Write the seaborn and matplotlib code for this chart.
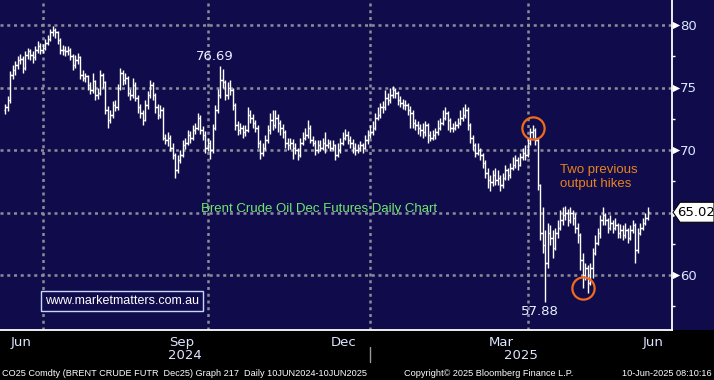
import numpy as np
import pandas as pd
import matplotlib
matplotlib.use("Agg")
import matplotlib.pyplot as plt
import seaborn as sns
from matplotlib.patches import Polygon, Rectangle

# trading days, ICE Brent closed on these
holidays = ["2024-12-25", "2025-01-01", "2025-04-18"]
days = pd.bdate_range("2024-06-10", "2025-06-09")
days = days[~days.isin(pd.to_datetime(holidays))]

# daily closes, one line per month
close = [
    73.4, 74.0, 76.0, 76.4, 76.8, 77.2, 77.3, 76.6, 77.6, 77.9, 77.6, 77.4, 78.0, 78.3, 78.0,
    78.2, 78.6, 78.9, 79.4, 79.6, 79.4, 78.8, 78.0, 78.0, 77.9, 78.0, 77.5, 76.8, 77.2, 77.4, 76.0, 75.8, 75.9, 75.2, 74.8, 75.5, 74.4, 74.6,
    76.0, 75.4, 73.2, 72.4, 72.8, 73.6, 73.4, 75.0, 76.2, 75.6, 75.8, 74.6, 74.4, 75.2, 74.2, 73.4, 73.0, 72.4, 73.6, 74.4, 75.2, 74.4,
    73.4, 72.8, 73.2, 71.0, 70.8, 71.0, 70.2, 69.6, 68.4, 69.2, 69.6, 70.4, 70.6, 71.2, 71.0, 71.6, 71.8, 72.6, 71.6, 71.2, 70.2,
    70.6, 70.0, 71.8, 73.2, 74.4, 75.6, 75.4, 74.4, 75.0, 74.8, 73.6, 72.0, 71.6, 71.8, 71.4, 71.6, 72.8, 72.6, 72.2, 71.8, 70.6, 69.8, 70.2,
    70.8, 71.6, 72.4, 72.0, 72.6, 72.2, 71.8, 71.4, 70.6, 70.4, 70.6, 70.2, 70.0, 69.6, 70.6, 71.0, 71.2, 71.8, 70.8, 70.6, 70.0,
    70.4, 70.2, 70.6, 70.4, 70.6, 70.2, 70.4, 69.6, 70.0, 70.6, 71.0, 71.2, 70.8, 70.6, 70.2, 70.0, 70.2, 70.4, 70.2, 70.8, 71.2,
    71.4, 71.8, 72.6, 72.8, 73.4, 73.4, 74.2, 74.0, 74.4, 74.8, 74.6, 74.0, 73.8, 73.6, 73.6, 73.2, 73.0, 72.2, 72.0, 71.8, 71.6, 71.4,
    72.0, 71.2, 71.0, 71.2, 71.4, 71.8, 72.2, 72.6, 73.0, 72.4, 71.8, 71.8, 72.0, 72.2, 72.6, 72.8, 73.2, 72.0, 71.0, 70.4,
    69.8, 70.0, 69.6, 69.0, 68.2, 67.6, 67.4, 68.0, 67.6, 67.8, 67.2, 67.8, 68.4, 68.0, 68.6, 68.8, 69.2, 68.8, 69.4, 69.8, 69.6,
    70.6, 71.4, 71.6, 70.8, 67.2, 63.4, 62.4, 61.0, 63.4, 63.0, 62.2, 63.4, 63.8, 64.4, 64.8, 65.0, 64.4, 65.0, 64.6, 63.8, 63.2,
    61.2, 60.0, 60.6, 59.4, 60.6, 61.8, 62.6, 63.4, 64.4, 64.8, 64.4, 63.8, 64.2, 63.8, 64.0, 63.4, 63.6, 63.2, 63.6, 63.0, 63.6, 64.0,
    62.0, 63.4, 63.8, 64.2, 64.6, 65.02,
]
high = [
    73.7, 74.3, 76.3, 76.8, 77.1, 77.5, 77.7, 77.5, 77.9, 78.2, 78.1, 77.9, 78.3, 78.7, 78.6,
    78.5, 78.9, 79.2, 79.7, 79.9, 79.8, 79.5, 79.0, 78.4, 78.3, 78.3, 78.2, 77.7, 77.6, 77.8, 77.5, 76.4, 76.2, 76.0, 75.4, 76.2, 75.6, 75.0,
    76.4, 76.2, 75.5, 73.5, 73.2, 73.9, 74.0, 75.3, 76.6, 76.4, 76.2, 75.9, 74.9, 75.8, 75.4, 74.4, 73.7, 73.2, 74.0, 74.7, 75.6, 75.4,
    74.6, 73.7, 73.6, 73.4, 71.3, 71.4, 71.2, 70.6, 69.8, 69.6, 70.0, 70.8, 71.0, 71.6, 71.5, 72.0, 72.2, 73.0, 72.8, 71.9, 71.5,
    71.0, 70.8, 72.1, 73.6, 74.9, 76.69, 76.5, 75.6, 75.4, 75.6, 75.0, 73.8, 72.3, 72.2, 72.0, 72.0, 73.4, 73.2, 72.9, 72.4, 72.0, 70.8, 70.6,
    71.2, 72.0, 73.0, 73.2, 73.2, 72.9, 72.4, 72.1, 71.6, 71.0, 71.0, 70.9, 70.6, 70.2, 71.0, 71.4, 71.8, 72.4, 72.0, 71.1, 70.8,
    70.8, 70.8, 71.0, 71.4, 70.9, 70.8, 70.8, 70.5, 70.6, 71.0, 71.4, 71.7, 71.5, 71.1, 70.9, 70.6, 70.5, 70.7, 70.6, 71.2, 71.6,
    72.0, 72.3, 73.0, 73.4, 73.8, 73.9, 74.8, 74.6, 75.0, 75.1, 75.0, 74.7, 74.3, 74.1, 74.0, 73.8, 73.5, 73.2, 72.5, 72.3, 72.1, 72.2,
    72.3, 72.2, 71.5, 71.6, 71.8, 72.4, 72.6, 73.2, 73.4, 73.1, 72.6, 72.2, 72.3, 72.6, 73.2, 73.4, 73.7, 73.4, 72.2, 71.2,
    70.6, 70.6, 70.2, 69.8, 69.2, 68.6, 68.0, 68.4, 68.6, 68.4, 68.0, 68.2, 68.8, 68.6, 69.0, 69.4, 69.6, 69.4, 69.8, 70.2, 70.4,
    71.0, 71.8, 72.0, 71.8, 71.0, 67.3, 65.4, 63.6, 64.2, 64.0, 63.6, 63.8, 64.4, 65.2, 65.4, 65.5, 65.3, 65.4, 65.2, 65.0, 64.2,
    63.4, 61.8, 61.0, 60.8, 61.0, 62.2, 63.2, 63.8, 64.8, 65.4, 65.0, 64.6, 64.8, 64.4, 64.6, 64.2, 64.1, 64.0, 64.2, 63.8, 64.0, 64.4,
    64.2, 63.8, 64.2, 64.6, 65.0, 65.4,
]
low = [
    72.9, 73.1, 73.8, 75.7, 76.0, 76.5, 76.9, 76.2, 76.4, 77.3, 77.2, 77.0, 77.2, 77.8, 77.7,
    77.8, 78.0, 78.4, 78.7, 79.1, 79.0, 78.5, 77.7, 77.6, 77.5, 77.6, 77.2, 76.4, 76.6, 76.9, 75.7, 75.5, 75.4, 74.8, 74.5, 74.6, 74.0, 74.1,
    74.4, 75.0, 72.9, 71.8, 72.2, 72.6, 73.1, 73.2, 74.8, 75.2, 75.3, 74.3, 74.0, 74.2, 73.9, 73.0, 72.6, 72.0, 72.3, 73.3, 74.2, 74.0,
    73.0, 72.5, 72.6, 70.8, 70.5, 70.3, 69.9, 69.3, 67.8, 68.2, 69.0, 69.4, 70.1, 70.4, 70.6, 70.8, 71.3, 71.6, 71.3, 70.8, 69.8,
    69.9, 69.3, 69.8, 71.6, 73.0, 74.2, 75.0, 74.0, 74.1, 74.4, 73.2, 71.6, 71.2, 71.3, 71.0, 71.1, 71.4, 72.2, 71.8, 71.4, 70.2, 69.3, 69.5,
    70.0, 70.6, 71.3, 71.6, 71.8, 71.4, 71.2, 71.0, 70.2, 70.0, 70.1, 69.3, 69.7, 69.2, 69.4, 70.4, 70.8, 71.0, 70.6, 70.3, 69.6,
    69.8, 69.9, 70.0, 69.8, 70.2, 69.9, 70.0, 69.2, 69.4, 69.8, 70.4, 70.8, 70.5, 70.2, 69.8, 69.6, 69.8, 69.9, 69.8, 70.1, 70.5,
    71.0, 71.2, 71.6, 72.4, 72.6, 73.0, 73.2, 73.6, 73.8, 74.2, 74.2, 73.6, 73.4, 73.3, 73.2, 72.8, 71.8, 71.8, 71.6, 71.3, 71.1, 71.0,
    71.1, 70.6, 70.7, 70.8, 70.9, 71.2, 71.6, 72.0, 72.4, 71.6, 71.4, 71.4, 71.6, 71.8, 72.0, 72.3, 72.6, 71.6, 70.6, 70.0,
    69.4, 69.6, 69.2, 68.6, 67.8, 67.0, 66.7, 67.1, 67.2, 67.2, 66.7, 67.0, 67.6, 67.6, 67.8, 68.4, 68.6, 68.4, 68.7, 69.2, 69.2,
    69.4, 70.4, 71.0, 70.4, 66.8, 62.8, 61.8, 57.88, 60.6, 62.4, 61.4, 62.0, 63.0, 63.6, 64.0, 64.4, 63.9, 64.2, 64.0, 63.4, 62.6,
    60.4, 59.0, 59.6, 58.6, 59.2, 59.8, 61.6, 62.4, 63.0, 64.0, 64.0, 63.4, 63.6, 63.4, 63.6, 63.0, 63.0, 62.8, 63.0, 62.6, 62.8, 63.4,
    61.0, 61.8, 63.2, 63.6, 64.0, 64.4,
]

price_ticks = [60, 65, 70, 75, 80]
circle_days = ["2025-04-03", "2025-05-02"]
circle_prices = [71.8, 59.0]
high_label_month = "2024-10"

df = pd.DataFrame({"date": days, "close": close, "high": high, "low": low})
df["open"] = df["close"].shift(1).fillna(73.2)  # bars open near the prior close
df["i"] = np.arange(len(df))

navy = "#100c4c"
sns.set_style("dark", {"axes.facecolor": navy, "figure.facecolor": "black"})
plt.rcParams["font.family"] = ["DejaVu Sans"]

fig = plt.figure(figsize=(7.14, 3.80), dpi=100)
# navy strip behind the price scale on the right
fig.patches.append(Rectangle((672 / 714, 50 / 380), 42 / 714, 330 / 380, transform=fig.transFigure,
                             facecolor=navy, edgecolor="none", zorder=-10))
ax = fig.add_axes([0, 50 / 380, 672 / 714, 330 / 380])
ax.set_facecolor(navy)

# OHLC bars
ax.vlines(df["i"], df["low"], df["high"], color="white", lw=1.0, zorder=3)
ax.hlines(df["open"], df["i"] - 0.6, df["i"], color="white", lw=1.0, zorder=3)
ax.hlines(df["close"], df["i"], df["i"] + 0.6, color="white", lw=1.0, zorder=3)

ax.set_xlim(-2, 266.8)
ax.set_ylim(55.6, 82)

# month positions
month = df["date"].dt.to_period("M")
starts = df.groupby(month)["i"].min()
month_start = starts.values[1:]
grid_start = [starts[p] for p in starts.index if p.month in (1, 4, 7, 10)]

dots = (0, (1.2, 1.5))
for p in price_ticks:
    ax.axhline(p, color="#8c8c98", lw=1.8, ls=dots, zorder=1)
for g in grid_start:
    ax.axvline(g, color="#8c8c98", lw=1.8, ls=dots, zorder=1)

for s in ["top", "left"]:
    ax.spines[s].set_visible(False)
for s in ["bottom", "right"]:
    ax.spines[s].set_color("white")
    ax.spines[s].set_linewidth(1.3)

# y axis on the right
ax.yaxis.tick_right()
ax.set_yticks(price_ticks)
ax.set_yticklabels([str(p) for p in price_ticks])
ax.set_yticks([57.5, 62.5, 67.5, 72.5, 77.5], minor=True)
ax.tick_params(axis="y", which="major", length=0, pad=6, labelcolor="#dde6ff", labelsize=9.5)
ax.tick_params(axis="y", which="minor", length=2.5, width=1, color="white", direction="out")
ax.scatter(np.full(len(price_ticks), 1 + 4 / 672), price_ticks, marker=">", s=28,
           color="white", transform=ax.get_yaxis_transform(), clip_on=False, zorder=5, linewidths=0)

# x axis: ticks on month starts, labels in the middle of the quarter months
ax.set_xticks(month_start)
ax.set_xticklabels([])
ax.tick_params(axis="x", which="major", length=3, width=1, color="white", direction="out")
edges = list(starts.values) + [266.8]
edges[0] = -2
lab_pos, lab_txt = [], []
for k, p in enumerate(starts.index):
    if p.month in (3, 6, 9, 12):
        lab_pos.append((edges[k] + edges[k + 1]) / 2)
        lab_txt.append(p.strftime("%b"))
ax.set_xticks(lab_pos, minor=True)
ax.set_xticklabels(lab_txt, minor=True)
ax.tick_params(axis="x", which="minor", length=0, pad=4, labelcolor="#dde6ff", labelsize=9.5)

year_start = starts[pd.Period("2025-01", "M")]
for txt, a, b in [("2024", -2, year_start), ("2025", year_start, 266.8)]:
    ax.text((a + b) / 2, -0.076, txt, transform=ax.get_xaxis_transform(), ha="center",
            va="center", color="#dde6ff", fontsize=9.5)
ax.plot([year_start, year_start], [-0.05, -0.097], color="#9a9a9a", lw=1,
        transform=ax.get_xaxis_transform(), clip_on=False)

# last price tag, it sits where the 65 label would be
last = close[-1]
tag = Polygon([(1 + 1 / 672, last), (1 + 8 / 672, last + 0.8), (1 + 42 / 672, last + 0.8),
               (1 + 42 / 672, last - 0.8), (1 + 8 / 672, last - 0.8)], closed=True,
              transform=ax.get_yaxis_transform(), facecolor="white", edgecolor="black",
              lw=0.8, clip_on=False, zorder=6)
ax.add_patch(tag)
ax.text(1 + 24 / 672, last, f"{last:.2f}", transform=ax.get_yaxis_transform(), ha="center",
        va="center", color="black", fontsize=9.5, zorder=7)
for t in ax.get_yticklabels():
    if t.get_text() == "65":
        t.set_visible(False)

# high / low labels
oct_rows = df[month == pd.Period(high_label_month, "M")]
ih = int(oct_rows["high"].idxmax())
il = int(np.argmin(low))
ax.annotate(f"{high[ih]:.2f}", (ih, high[ih]), xytext=(-4, 7), textcoords="offset points",
            ha="center", va="center", color="#e8f2ff", fontsize=9.5)
ax.annotate(f"{low[il]:.2f}", (il, low[il]), xytext=(-4, -7), textcoords="offset points",
            ha="center", va="center", color="#e8f2ff", fontsize=9.5)

# orange circles
ci = [int(df.index[df["date"] == pd.Timestamp(d)][0]) for d in circle_days]
ax.plot(ci, circle_prices, ls="none", marker="o", ms=16, mfc="none", mec="#f26a1b", mew=1.6, zorder=6)

ax.text(560 / 672, 1 - 177 / 330, "Two previous\noutput hikes", transform=ax.transAxes,
        ha="left", va="center", color="#e8821e", fontsize=9.5, family="Liberation Sans",
        linespacing=1.15)
ax.text(319 / 672, 1 - 209 / 330, "Brent Crude Oil Dec Futures Daily Chart", transform=ax.transAxes,
        ha="center", va="center", color="#6fe86f", fontsize=9.5, family="Liberation Sans")
ax.text(122 / 672, 1 - 301 / 330, "www.marketmatters.com.au", transform=ax.transAxes,
        ha="center", va="center", color="white", fontsize=9, family="Liberation Sans",
        bbox=dict(boxstyle="square,pad=0.3", fc=navy, ec="#c6d6ff", lw=1))

# footer
fy = 1 - 373 / 380
foot = dict(color="white", fontsize=6.6, va="center", family="Liberation Sans")
fig.text(2 / 714, fy, "CO25 Comdty (BRENT CRUDE FUTR  Dec25) Graph 217  Daily 10JUN2024-10JUN2025",
         ha="left", **foot)
fig.text(489 / 714, fy, "Copyright\u00a9 2025 Bloomberg Finance L.P.", ha="center", **foot)
fig.text(712 / 714, fy, "10-Jun-2025 08:10:16", ha="right", **foot)

fig.savefig("out.png", dpi=100, facecolor="black")
